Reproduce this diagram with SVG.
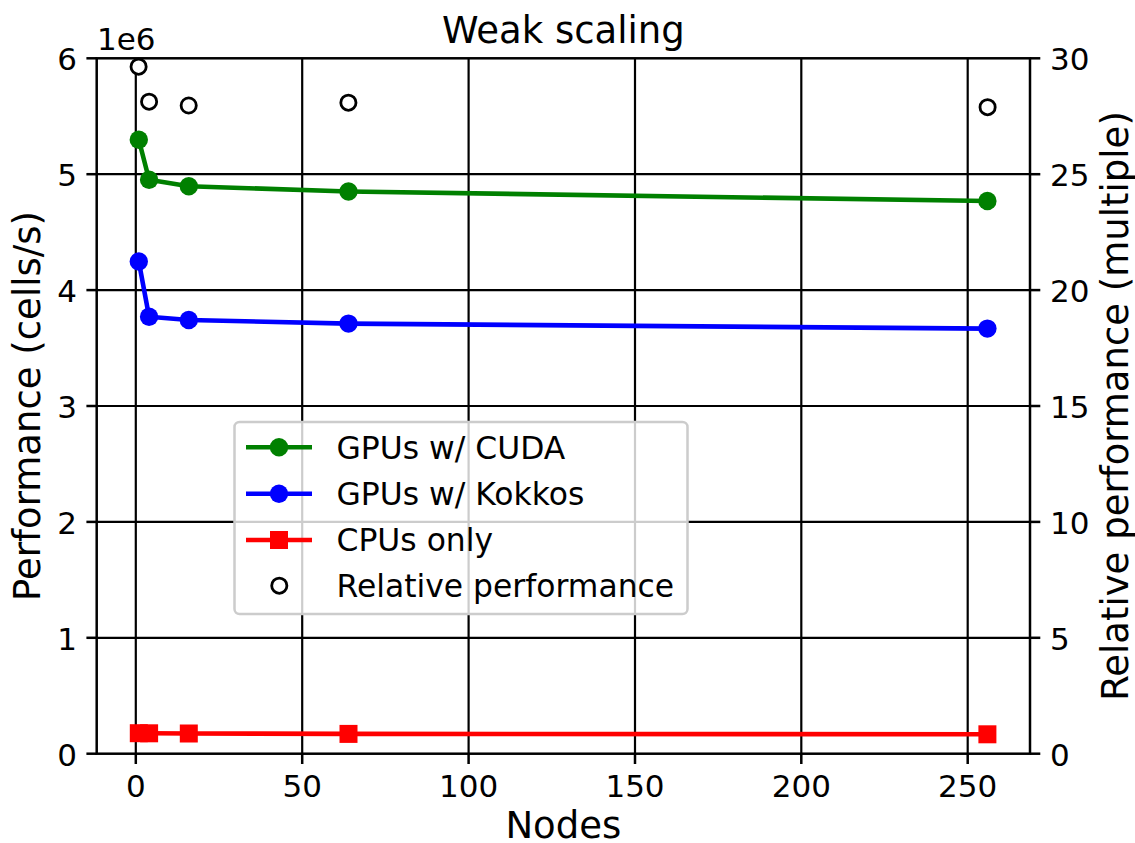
<svg xmlns="http://www.w3.org/2000/svg" width="1135" height="843" viewBox="0 0 1135 843">
  <style>
    text { font-family: "DejaVu Sans", "Liberation Sans", sans-serif; fill: #000; }
    .tick { font-size: 31px; }
    .leg { font-size: 31.4px; }
    .lab { font-size: 37px; }
    .grid line { stroke: #000; stroke-width: 2.2; }
    .ticks line { stroke: #000; stroke-width: 2.5; }
    .spine { fill: none; stroke: #000; stroke-width: 2.5; }
    .cuda { stroke: #008000; fill: none; stroke-width: 4.6; stroke-linejoin: round; }
    .kokkos { stroke: #0000ff; fill: none; stroke-width: 4.6; stroke-linejoin: round; }
    .cpu { stroke: #ff0000; fill: none; stroke-width: 4.6; stroke-linejoin: round; }
    .dotg { fill: #008000; }
    .dotb { fill: #0000ff; }
    .sqr { fill: #ff0000; }
    .rel { fill: #fff; stroke: #000; stroke-width: 2.8; }
  </style>
  <defs>
    <circle id="mg" r="9.2" class="dotg"/>
    <circle id="mb" r="9.2" class="dotb"/>
    <rect id="ms" x="-9" y="-9" width="18" height="18" class="sqr"/>
    <circle id="mo" r="7.6" class="rel"/>
  </defs>

  <rect width="1135" height="843" fill="#fff"/>

  <!-- grid -->
  <g id="grid" class="grid">
    <line x1="135.8" y1="58.3" x2="135.8" y2="753.7"/>
    <line x1="302.2" y1="58.3" x2="302.2" y2="753.7"/>
    <line x1="468.6" y1="58.3" x2="468.6" y2="753.7"/>
    <line x1="635.0" y1="58.3" x2="635.0" y2="753.7"/>
    <line x1="801.3" y1="58.3" x2="801.3" y2="753.7"/>
    <line x1="967.7" y1="58.3" x2="967.7" y2="753.7"/>
    <line x1="96.7" y1="637.8" x2="1030" y2="637.8"/>
    <line x1="96.7" y1="521.9" x2="1030" y2="521.9"/>
    <line x1="96.7" y1="406.0" x2="1030" y2="406.0"/>
    <line x1="96.7" y1="290.1" x2="1030" y2="290.1"/>
    <line x1="96.7" y1="174.2" x2="1030" y2="174.2"/>
  </g>

  <!-- data series -->
  <g id="connectors">
    <polyline class="cuda" points="138.8,139.8 149.1,179.8 188.8,186.2 348.5,191.5 987.4,201"/>
    <polyline class="kokkos" points="138.8,261.5 149.1,316.8 188.8,320 348.5,323.6 987.4,328.6"/>
    <polyline class="cpu" points="138.8,733.2 149.1,733.3 188.8,733.5 348.5,733.9 987.4,734.3"/>
  </g>

  <g id="series-cuda">
    <use href="#mg" x="138.8" y="139.8"/>
    <use href="#mg" x="149.1" y="179.8"/>
    <use href="#mg" x="188.8" y="186.2"/>
    <use href="#mg" x="348.5" y="191.5"/>
    <use href="#mg" x="987.4" y="201"/>
  </g>
  <g id="series-kokkos">
    <use href="#mb" x="138.8" y="261.5"/>
    <use href="#mb" x="149.1" y="316.8"/>
    <use href="#mb" x="188.8" y="320"/>
    <use href="#mb" x="348.5" y="323.6"/>
    <use href="#mb" x="987.4" y="328.6"/>
  </g>
  <g id="series-cpu">
    <use href="#ms" x="138.8" y="733.2"/>
    <use href="#ms" x="149.1" y="733.3"/>
    <use href="#ms" x="188.8" y="733.5"/>
    <use href="#ms" x="348.5" y="733.9"/>
    <use href="#ms" x="987.4" y="734.3"/>
  </g>

  <!-- axes frame and ticks -->
  <g id="axes">
    <rect class="spine" x="96.7" y="58.3" width="933.3" height="695.4"/>
    <g class="ticks">
      <line x1="135.8" y1="753.7" x2="135.8" y2="764"/>
      <line x1="302.2" y1="753.7" x2="302.2" y2="764"/>
      <line x1="468.6" y1="753.7" x2="468.6" y2="764"/>
      <line x1="635.0" y1="753.7" x2="635.0" y2="764"/>
      <line x1="801.3" y1="753.7" x2="801.3" y2="764"/>
      <line x1="967.7" y1="753.7" x2="967.7" y2="764"/>
      <line x1="86.4" y1="753.7" x2="96.7" y2="753.7"/>
      <line x1="86.4" y1="637.8" x2="96.7" y2="637.8"/>
      <line x1="86.4" y1="521.9" x2="96.7" y2="521.9"/>
      <line x1="86.4" y1="406.0" x2="96.7" y2="406.0"/>
      <line x1="86.4" y1="290.1" x2="96.7" y2="290.1"/>
      <line x1="86.4" y1="174.2" x2="96.7" y2="174.2"/>
      <line x1="86.4" y1="58.3" x2="96.7" y2="58.3"/>
      <line x1="1030" y1="753.7" x2="1040.3" y2="753.7"/>
      <line x1="1030" y1="637.8" x2="1040.3" y2="637.8"/>
      <line x1="1030" y1="521.9" x2="1040.3" y2="521.9"/>
      <line x1="1030" y1="406.0" x2="1040.3" y2="406.0"/>
      <line x1="1030" y1="290.1" x2="1040.3" y2="290.1"/>
      <line x1="1030" y1="174.2" x2="1040.3" y2="174.2"/>
      <line x1="1030" y1="58.3" x2="1040.3" y2="58.3"/>
    </g>
    <g class="tick" text-anchor="middle">
      <text x="135.8" y="797">0</text>
      <text x="302.2" y="797">50</text>
      <text x="468.6" y="797">100</text>
      <text x="635.0" y="797">150</text>
      <text x="801.3" y="797">200</text>
      <text x="967.7" y="797">250</text>
    </g>
    <g class="tick" text-anchor="end">
      <text x="77" y="765.5">0</text>
      <text x="77" y="649.6">1</text>
      <text x="77" y="533.7">2</text>
      <text x="77" y="417.8">3</text>
      <text x="77" y="301.9">4</text>
      <text x="77" y="186">5</text>
      <text x="77" y="70.1">6</text>
    </g>
    <g class="tick" text-anchor="start">
      <text x="1050" y="765.5">0</text>
      <text x="1050" y="649.6">5</text>
      <text x="1050" y="533.7">10</text>
      <text x="1050" y="417.8">15</text>
      <text x="1050" y="301.9">20</text>
      <text x="1050" y="186">25</text>
      <text x="1050" y="70.1">30</text>
    </g>
    <text class="tick" x="97" y="50">1e6</text>
  </g>

  <!-- relative performance (right axis) -->
  <g id="series-relative">
    <use href="#mo" x="138.6" y="66.7"/>
    <use href="#mo" x="149.1" y="101.7"/>
    <use href="#mo" x="188.7" y="105.5"/>
    <use href="#mo" x="348.4" y="102.7"/>
    <use href="#mo" x="987.6" y="107.2"/>
  </g>

  <!-- titles -->
  <g id="labels">
    <text class="lab" x="563.3" y="43" text-anchor="middle">Weak scaling</text>
    <text class="lab" x="563.3" y="838" text-anchor="middle">Nodes</text>
    <text class="lab" transform="translate(40,406) rotate(-90)" text-anchor="middle">Performance (cells/s)</text>
    <text class="lab" transform="translate(1128,406) rotate(-90)" text-anchor="middle">Relative performance (multiple)</text>
  </g>

  <!-- legend -->
  <g id="legend">
    <rect x="234.5" y="422" width="453" height="192" rx="5" fill="#fff" fill-opacity="0.8" stroke="#cccccc" stroke-width="2.5"/>
    <line class="cuda" x1="246" y1="447.3" x2="312" y2="447.3"/>
    <use href="#mg" x="279" y="447.3"/>
    <text class="leg" x="336.5" y="458.5">GPUs w/ CUDA</text>
    <line class="kokkos" x1="246" y1="493.8" x2="312" y2="493.8"/>
    <use href="#mb" x="279" y="493.8"/>
    <text class="leg" x="336.5" y="505">GPUs w/ Kokkos</text>
    <line class="cpu" x1="246" y1="540" x2="312" y2="540"/>
    <use href="#ms" x="279" y="540"/>
    <text class="leg" x="336.5" y="551.3">CPUs only</text>
    <use href="#mo" x="279.3" y="585.7"/>
    <text class="leg" x="336.5" y="597">Relative performance</text>
  </g>
</svg>
